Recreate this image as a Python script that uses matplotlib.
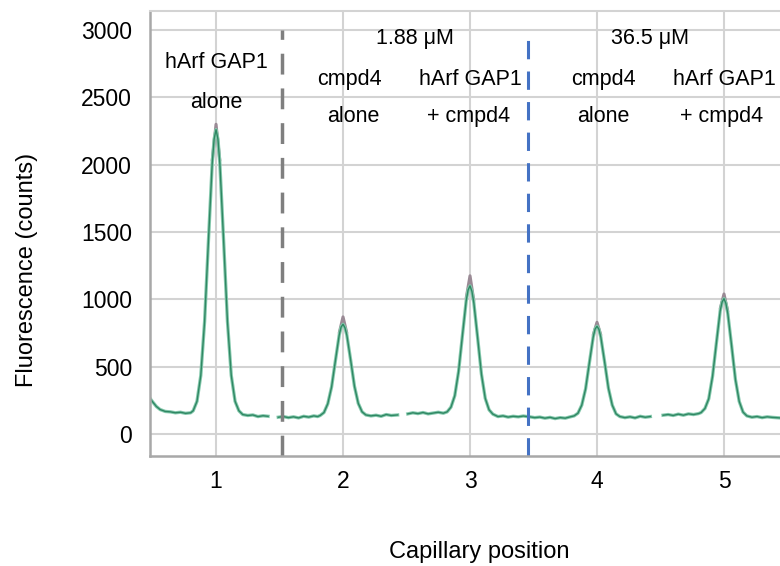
import matplotlib
matplotlib.use("Agg")
import matplotlib.pyplot as plt

plt.rcParams['font.family'] = ['Liberation Sans', 'DejaVu Sans']

# capillary scan traces, one segment per capillary (position, counts)
seg1_x = [0.48, 0.50, 0.53, 0.56, 0.60, 0.64, 0.68, 0.72, 0.76, 0.80, 0.82, 0.85, 0.88, 0.91,
          0.94, 0.97, 0.985, 1.00, 1.015, 1.03, 1.06, 1.09, 1.12, 1.15, 1.18, 1.21, 1.25, 1.29,
          1.33, 1.37, 1.41]
seg1_y = [265, 240, 205, 182, 168, 165, 158, 162, 154, 158, 173, 243, 435, 836,
          1431, 2011, 2190, 2260, 2190, 2011, 1431, 836, 435, 243, 173, 145, 138, 142,
          130, 136, 132]

seg2_x = [1.49, 1.53, 1.57, 1.61, 1.65, 1.69, 1.73, 1.77, 1.80, 1.82, 1.85, 1.88, 1.91, 1.94,
          1.97, 1.985, 2.00, 2.015, 2.03, 2.06, 2.09, 2.12, 2.15, 2.18, 2.22, 2.26, 2.30, 2.34,
          2.38, 2.43]
seg2_y = [125, 130, 122, 128, 120, 132, 126, 135, 130, 138, 160, 225, 350, 545,
          735, 795, 815, 790, 735, 550, 355, 228, 165, 142, 135, 140, 132, 145,
          138, 142]

seg3_x = [2.51, 2.55, 2.59, 2.63, 2.67, 2.71, 2.75, 2.79, 2.82, 2.85, 2.88, 2.91, 2.94, 2.97,
          2.985, 3.00, 3.015, 3.03, 3.06, 3.09, 3.12, 3.15, 3.18, 3.22, 3.26, 3.30, 3.34, 3.38,
          3.42, 3.45]
seg3_y = [150, 158, 152, 160, 150, 156, 162, 155, 165, 200, 285, 465, 730, 990,
          1070, 1100, 1060, 975, 715, 445, 265, 180, 148, 130, 135, 126, 132, 128,
          134, 130]

seg4_x = [3.47, 3.51, 3.55, 3.59, 3.63, 3.67, 3.71, 3.75, 3.79, 3.82, 3.85, 3.88, 3.91, 3.94,
          3.97, 3.985, 4.00, 4.015, 4.03, 4.06, 4.09, 4.12, 4.15, 4.18, 4.22, 4.26, 4.30, 4.34,
          4.38, 4.42]
seg4_y = [128, 122, 126, 118, 124, 115, 122, 118, 128, 135, 155, 215, 335, 530,
          720, 780, 800, 778, 720, 535, 340, 215, 150, 130, 122, 128, 120, 132,
          125, 130]

seg5_x = [4.52, 4.56, 4.60, 4.64, 4.68, 4.72, 4.76, 4.80, 4.82, 4.85, 4.88, 4.91, 4.94, 4.97,
          4.985, 5.00, 5.015, 5.03, 5.06, 5.09, 5.12, 5.15, 5.18, 5.22, 5.26, 5.30, 5.34, 5.38,
          5.44]
seg5_y = [140, 145, 138, 148, 140, 150, 145, 152, 160, 190, 262, 430, 675, 915,
          980, 1005, 970, 895, 655, 405, 242, 163, 135, 125, 130, 122, 128, 124,
          120]

# second (grey) replicate, only visible at the peak tips
grey_x = [[0.97, 1.00, 1.03], [1.97, 2.00, 2.03], [2.97, 3.00, 3.03],
          [3.97, 4.00, 4.03], [4.97, 5.00, 5.03]]
grey_y = [[2030, 2300, 2030], [750, 870, 750], [1010, 1175, 990],
          [735, 830, 735], [930, 1040, 910]]

positions = [1, 2, 3, 4, 5]
yticks = [0, 500, 1000, 1500, 2000, 2500, 3000]

labels = [(1.0, 2755, "hArf GAP1"), (1.0, 2465, "alone"),
          (2.57, 2933, "1.88 μM"),
          (2.05, 2636, "cmpd4"), (2.08, 2354, "alone"),
          (3.0, 2636, "hArf GAP1"), (2.99, 2354, "+ cmpd4"),
          (4.42, 2933, "36.5 μM"),
          (4.05, 2636, "cmpd4"), (4.05, 2354, "alone"),
          (5.0, 2636, "hArf GAP1"), (4.98, 2354, "+ cmpd4")]

fig = plt.figure(figsize=(7.8, 5.66), dpi=100)
ax = fig.add_axes([0.1923, 0.1943, 0.8077, 0.7863])
ymin, ymax = -163, 3141
ax.set_xlim(0.48, 5.441)
ax.set_ylim(ymin, ymax)

ax.set_xticks(positions)
ax.set_yticks(yticks)
ax.grid(True, color='#d3d3d3', lw=1.5)
ax.set_axisbelow(True)
ax.tick_params(length=0, labelsize=16.5)
ax.tick_params(axis='y', pad=13)
ax.tick_params(axis='x', pad=10)

for s in ['left', 'bottom']:
    ax.spines[s].set_color('#a8a8a8')
    ax.spines[s].set_linewidth(1.8)
ax.spines['top'].set_color('#d3d3d3')
ax.spines['top'].set_linewidth(1.5)
ax.spines['right'].set_visible(False)

for gx, gy in zip(grey_x, grey_y):
    ax.plot(gx, gy, color='#9a8a95', lw=2.2, solid_capstyle='round')

for sx, sy in [(seg1_x, seg1_y), (seg2_x, seg2_y), (seg3_x, seg3_y),
               (seg4_x, seg4_y), (seg5_x, seg5_y)]:
    ax.plot(sx, sy, color='#85c9ad', lw=2.4)
    ax.plot(sx, sy, color='#2f8763', lw=1.0)

ax.vlines(1.52, ymin, 3000, color='#7f7f7f', lw=2.5, linestyles=(0, (6, 4)))
ax.vlines(3.46, ymin, 3000, color='#4472c4', lw=2.2, linestyles=(0, (6, 4)))

for x, y, t in labels:
    ax.text(x, y, t, ha='center', va='center', fontsize=15.5)

fig.text(0.615, 0.025, "Capillary position", ha='center', va='center', fontsize=17)
fig.text(0.034, 0.523, "Fluorescence (counts)", ha='center', va='center',
         rotation=90, fontsize=17)

fig.savefig("out.png", dpi=100)
